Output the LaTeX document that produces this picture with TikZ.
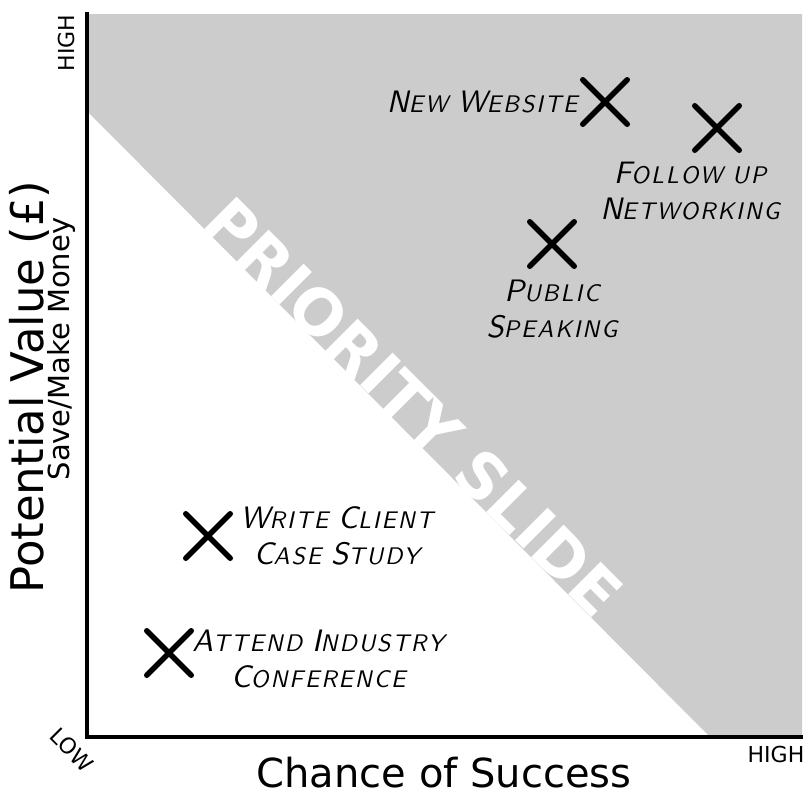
\documentclass[tikz,border=0pt]{standalone}
\usepackage{fontspec}
\usetikzlibrary{positioning,shapes.misc}
\newfontfamily\axisfont{DejaVu Sans}
\newfontfamily\handfont{lmsans10-oblique.otf}[LetterSpace=8]
\newcommand\bigltr[1]{{\fontsize{31}{36}\selectfont #1}}

\begin{document}
\begin{tikzpicture}[x=1pt, y=-1pt,
xcross/.style={cross out, draw=black, line width=5.5pt, line cap=round, minimum size=39pt, inner sep=0pt},
hand/.style={font=\handfont\fontsize{24}{36}\selectfont, align=center, inner sep=0pt},
axislabel/.style={font=\axisfont\fontsize{40}{40}\selectfont, inner sep=0pt},
sublabel/.style={font=\axisfont\fontsize{29}{29}\selectfont, inner sep=0pt},
endlabel/.style={font=\axisfont\fontsize{22}{22}\selectfont, inner sep=0pt},
]
\fill[white] (0,0) rectangle (811,795);
%Priority area
\fill[black!20] (88,14) -- (802,14) -- (802,737) -- (710,737) -- (88,112) -- cycle;
\node[rotate=-45, text=white, font=\axisfont\bfseries\fontsize{63}{63}\selectfont, inner sep=0pt] (slide) at (414,407) {PRIORITY SLIDE};
%Axes
\coordinate (origin) at (87,737);
\coordinate (ytop) at (87,12);
\coordinate (xend) at (803,737);
\draw[line width=4pt] (ytop) -- (origin) -- (xend);
\node[axislabel] (xlabel) at (444,773) {Chance of Success};
\node[axislabel, font=\axisfont\fontsize{45}{45}\selectfont, rotate=90] (ylabel) at (29,387) {Potential Value (£)};
\node[sublabel, rotate=90] (ysub) at (61,349) {Save/Make Money};
\node[endlabel, rotate=90] (yhigh) at (66,43) {HIGH};
\node[endlabel] (xhigh) at (776,754) {HIGH};
\node[endlabel, rotate=-45] (low) at (72,750) {LOW};
%Tasks
\node[xcross] (xwebsite) at (605,102) {};
\node[hand, left=5pt of xwebsite] (website) {\bigltr{N}EW \bigltr{W}EBSITE};
\node[xcross] (xnetwork) at (717,128) {};
\node[hand, below=12pt of xnetwork, xshift=-27pt] (network) {\bigltr{F}OLLOW UP\\\bigltr{N}ETWORKING};
\node[xcross] (xspeaking) at (552,244) {};
\node[hand, below=14pt of xspeaking] (speaking) {\bigltr{P}UBLIC\\\bigltr{S}PEAKING};
\node[xcross] (xstudy) at (208,536) {};
\node[hand, right=10pt of xstudy] (study) {\bigltr{W}RITE \bigltr{C}LIENT\\\bigltr{C}ASE \bigltr{S}TUDY};
\node[xcross] (xconference) at (169,653) {};
\node[hand, right=1pt of xconference, yshift=-6pt] (conference) {\bigltr{A}TTEND \bigltr{I}NDUSTRY\\\bigltr{C}ONFERENCE};
\end{tikzpicture}
\end{document}
